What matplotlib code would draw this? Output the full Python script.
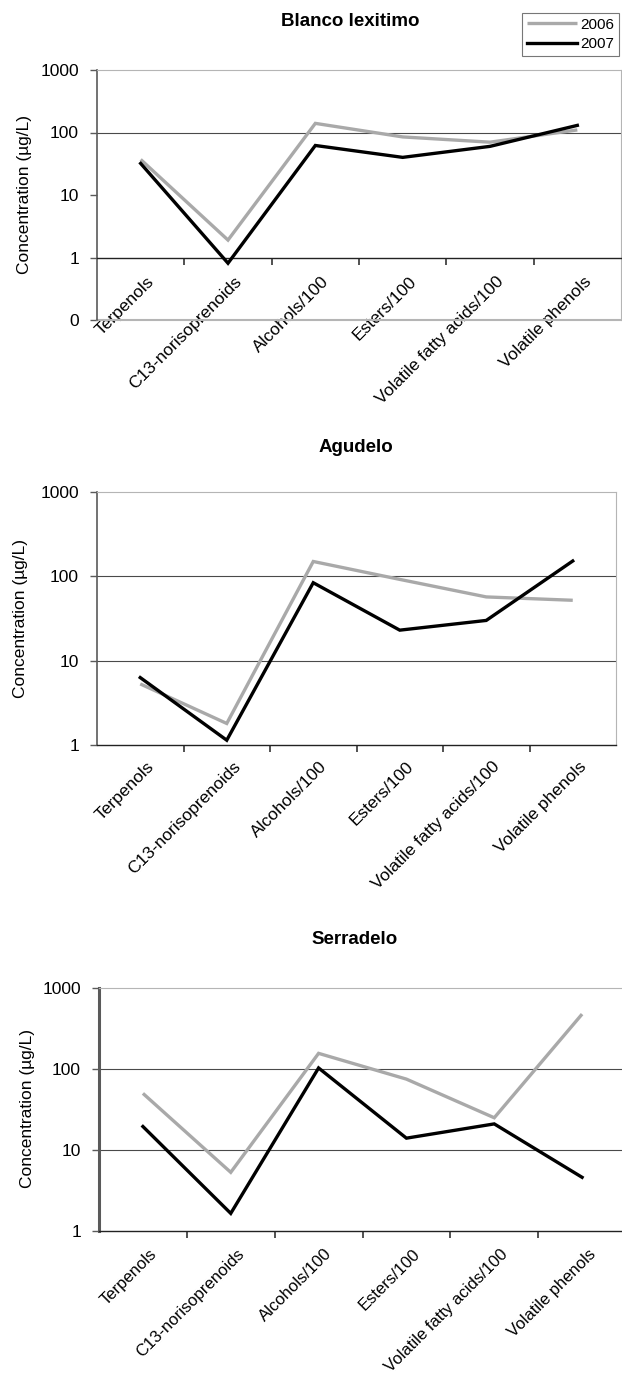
import matplotlib
matplotlib.use('Agg')
import matplotlib.pyplot as plt
import matplotlib.transforms as mtransforms
from matplotlib.ticker import FixedLocator

plt.rcParams['font.family'] = ['Liberation Sans', 'DejaVu Sans']

categories = ["Terpenols", "C13-norisoprenoids", "Alcohols/100", "Esters/100",
              "Volatile fatty acids/100", "Volatile phenols"]
titles = ["Blanco lexitimo", "Agudelo", "Serradelo"]
years = ["2006", "2007"]
blanco_2006 = [37, 1.9, 140, 85, 70, 110]
blanco_2007 = [32, 0.81, 62, 40, 60, 130]
agudelo_2006 = [5.3, 1.8, 150, 92, 57, 52]
agudelo_2007 = [6.3, 1.14, 84, 23, 30, 152]
serradelo_2006 = [50, 5.3, 156, 75, 25, 476]
serradelo_2007 = [19.5, 1.65, 103, 14, 21, 4.6]

W, H, DPI = 622, 1385, 100
fig = plt.figure(figsize=(W / DPI, H / DPI), dpi=DPI)

def px_axes(left, top, right, bottom):
    return fig.add_axes([left / W, 1 - bottom / H, (right - left) / W, (bottom - top) / H])

GRAY = '#a9a9a9'
panels = [
    dict(box=(97, 70, 621, 320), ylim=(0.1, 1000), yt=[0.1, 1, 10, 100, 1000],
         ytl=['0', '1', '10', '100', '1000'], grid=[100], data=(blanco_2006, blanco_2007),
         title_xy=(350, 22), ylab_xy=(24, 194), pad=12, spine_lw=1.2, lsize=12.5),
    dict(box=(97, 492, 616, 745), ylim=(1, 1000), yt=[1, 10, 100, 1000],
         ytl=['1', '10', '100', '1000'], grid=[10, 100], data=(agudelo_2006, agudelo_2007),
         title_xy=(356, 448), ylab_xy=(21, 618), pad=10, spine_lw=1.2, lsize=12.5),
    dict(box=(99, 988, 626, 1231), ylim=(1, 1000), yt=[1, 10, 100, 1000],
         ytl=['1', '10', '100', '1000'], grid=[10, 100], data=(serradelo_2006, serradelo_2007),
         title_xy=(355, 940), ylab_xy=(28, 1108), pad=11, spine_lw=2.2, lsize=12),
]

x = list(range(len(categories)))
for i, p in enumerate(panels):
    ax = px_axes(*p['box'])
    ax.set_yscale('log')
    ax.set_ylim(*p['ylim'])
    ax.set_xlim(-0.5, len(categories) - 0.5)
    for g in p['grid']:
        ax.axhline(g, color='#4a4a4a', lw=0.8, zorder=1)
    d06, d07 = p['data']
    l1, = ax.plot(x, d06, color=GRAY, lw=2.4, zorder=3, solid_capstyle='butt', solid_joinstyle='miter')
    l2, = ax.plot(x, d07, color='black', lw=2.4, zorder=4, solid_capstyle='projecting', solid_joinstyle='miter')
    ax.spines['top'].set_color('#b5b5b5')
    ax.spines['right'].set_color('#b5b5b5')
    ax.spines['left'].set_color('#5a5a5a')
    ax.spines['left'].set_linewidth(p['spine_lw'])
    if p['ylim'][0] < 1:
        ax.axhline(p['ylim'][0], color='#b5b5b5', lw=1.5, zorder=2, clip_on=False)
        ax.spines['bottom'].set_position(('data', 1))
    ax.spines['bottom'].set_color('#222222')
    ax.spines['bottom'].set_linewidth(1.0)
    ax.yaxis.set_major_locator(FixedLocator(p['yt']))
    ax.yaxis.set_minor_locator(FixedLocator([]))
    ax.set_yticklabels(p['ytl'])
    ax.tick_params(axis='y', which='major', length=5, width=1, color='#5a5a5a', pad=8, labelsize=12.5)
    ax.set_xticks(x)
    ax.set_xticks([k + 0.5 for k in range(len(categories) - 1)], minor=True)
    ax.tick_params(axis='x', which='major', length=0, pad=p['pad'], labelsize=p['lsize'])
    ax.tick_params(axis='x', which='minor', length=5, width=1.2, color='#333333')
    ax.set_xticklabels(categories, rotation=45, ha='right', va='top', rotation_mode='anchor')
    off = mtransforms.ScaledTranslation(6 / DPI, 0, fig.dpi_scale_trans)
    for lab in ax.get_xticklabels():
        lab.set_transform(lab.get_transform() + off)
    tx, ty = p['title_xy']
    fig.text(tx / W, 1 - ty / H, titles[i], ha='center', va='center', fontsize=13.5, fontweight='bold')
    lx, ly = p['ylab_xy']
    fig.text(lx / W, 1 - ly / H, 'Concentration (µg/L)', rotation=90, ha='center', va='center', fontsize=12.5)
    if i == 0:
        leg = fig.legend([l1, l2], years, loc='upper left',
                         bbox_to_anchor=(522 / W, 1 - 13 / H), bbox_transform=fig.transFigure,
                         fontsize=11, frameon=True, fancybox=False, handlelength=3.3,
                         handletextpad=0.2, borderpad=0.3, labelspacing=0.35, borderaxespad=0)
        leg.get_frame().set_edgecolor('#555555')
        leg.get_frame().set_linewidth(0.8)

fig.savefig('out.png', dpi=DPI)
